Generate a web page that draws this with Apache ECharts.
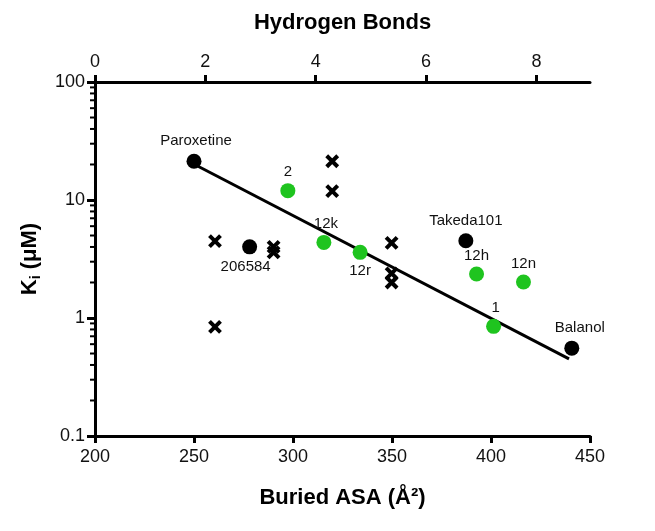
<!DOCTYPE html>
<html><head><meta charset="utf-8">
<script src="https://cdn.jsdelivr.net/npm/echarts@6/dist/echarts.min.js"></script>
<style>html,body{margin:0;padding:0;background:#fff}#c{width:655px;height:531px}</style>
</head><body><div id="c"></div>
<script>
// Named compounds (black = reference inhibitors, green = new compounds)
const blackNames = ['Paroxetine', '206584', 'Takeda101', 'Balanol'];
const blackX = [250.0, 278.1, 387.3, 440.8];
const blackY = [21.3, 4.01, 4.51, 0.555];
const greenNames = ['2', '12k', '12r', '12h', '12n', '1'];
const greenX = [297.4, 315.6, 333.9, 392.7, 416.4, 401.3];
const greenY = [12.0, 4.37, 3.6, 2.36, 2.02, 0.85];
// Unlabelled crosses
const crossX = [319.8, 319.8, 260.6, 290.2, 290.2, 260.6, 349.8, 349.8, 349.8];
const crossY = [21.3, 11.9, 4.48, 4.0, 3.6, 0.84, 4.33, 2.39, 2.0];
// Regression line endpoints
const fitX = [251.3, 439.4];
const fitY = [19.6, 0.451];
// Axis ticks
const bottomTicks = [200, 250, 300, 350, 400, 450];
const topTicks = [0, 2, 4, 6, 8];
const leftTicks = [0.1, 1, 10, 100];
const minorLeft = [0.2,0.3,0.4,0.5,0.6,0.7,0.8,0.9,2,3,4,5,6,7,8,9,20,30,40,50,60,70,80,90];

const labelPos = {
  'Paroxetine': {position: 'top', distance: 5, offset: [2, 0]},
  '206584': {position: 'bottom', distance: 5, offset: [-4, 0]},
  'Takeda101': {position: 'top', distance: 5},
  'Balanol': {position: 'top', distance: 5, offset: [8, 0]},
  '2': {position: 'top', distance: 4},
  '12k': {position: 'top', distance: 4, offset: [2, 0]},
  '12r': {position: 'bottom', distance: 4},
  '12h': {position: 'top', distance: 3},
  '12n': {position: 'top', distance: 3},
  '1': {position: 'top', distance: 3, offset: [2, 0]}
};
function mk(names, xs, ys) {
  return names.map((n, i) => ({
    name: n, value: [xs[i], ys[i]],
    label: Object.assign({show: true, formatter: n, color: '#111', fontSize: 15, fontFamily: 'Liberation Sans'}, labelPos[n])
  }));
}
const FONT = 'Liberation Sans';
const chart = echarts.init(document.getElementById('c'), null, {renderer: 'canvas'});
chart.setOption({
  animation: false,
  backgroundColor: '#fff',
  grid: {left: 95, right: 65, top: 82, bottom: 95, containLabel: false},
  xAxis: [{
    type: 'value', position: 'bottom', min: 200, max: 450, interval: 50,
    name: 'Buried ASA (Å²)', nameLocation: 'middle', nameGap: 51,
    nameTextStyle: {fontSize: 22, fontWeight: 'bold', color: '#000', fontFamily: FONT},
    axisLine: {show: true, onZero: false, lineStyle: {color: '#000', width: 3}},
    axisTick: {show: true, length: 7, lineStyle: {color: '#000', width: 3}},
    axisLabel: {fontSize: 18, color: '#111', fontFamily: FONT, margin: 12},
    splitLine: {show: false}
  }, {
    type: 'value', position: 'top', min: 0, max: 8.97, interval: 2,
    name: 'Hydrogen Bonds', nameLocation: 'middle', nameGap: 48,
    nameTextStyle: {fontSize: 22, fontWeight: 'bold', color: '#000', fontFamily: FONT},
    axisLine: {show: true, onZero: false, lineStyle: {color: '#000', width: 3}},
    axisTick: {show: true, length: 7, customValues: topTicks, lineStyle: {color: '#000', width: 3}},
    axisLabel: {fontSize: 18, color: '#111', fontFamily: FONT, margin: 11, customValues: topTicks},
    splitLine: {show: false}
  }],
  yAxis: [{
    type: 'log', logBase: 10, min: 0.1, max: 100,
    name: '{a|K}{s|i}{a| (μM)}', nameLocation: 'middle', nameGap: 52, nameRotate: 90,
    nameTextStyle: {
      fontFamily: FONT,
      rich: {
        a: {fontSize: 22, fontWeight: 'bold', color: '#000', fontFamily: FONT},
        s: {fontSize: 14, fontWeight: 'bold', color: '#000', fontFamily: FONT, verticalAlign: 'bottom', padding: [12, 0, 0, 0]}
      }
    },
    axisLine: {show: true, onZero: false, lineStyle: {color: '#000', width: 3}},
    axisTick: {show: true, length: 8, lineStyle: {color: '#000', width: 3}},
    axisLabel: {fontSize: 18, color: '#111', fontFamily: FONT, margin: 10,
      formatter: v => String(parseFloat(v.toPrecision(3)))},
    splitLine: {show: false}
  }],
  series: [{
    type: 'custom', xAxisIndex: 0, yAxisIndex: 0, silent: true, clip: false, z: 1,
    data: minorLeft.map(v => [200, v]),
    renderItem: (params, api) => {
      const p = api.coord([api.value(0), api.value(1)]);
      return {type: 'line', shape: {x1: p[0] - 5, y1: p[1], x2: p[0], y2: p[1]}, style: {stroke: '#000', lineWidth: 2}};
    }
  }, {
    type: 'line', xAxisIndex: 0, yAxisIndex: 0, symbol: 'none', z: 2,
    data: fitX.map((x, i) => [x, fitY[i]]),
    lineStyle: {color: '#000', width: 3}
  }, {
    type: 'scatter', xAxisIndex: 0, yAxisIndex: 0, z: 3,
    symbol: 'path://M0,0 L10,10 M10,0 L0,10', symbolSize: 11,
    itemStyle: {color: 'none', borderColor: '#000', borderWidth: 4, opacity: 1},
    data: crossX.map((x, i) => [x, crossY[i]])
  }, {
    type: 'scatter', xAxisIndex: 0, yAxisIndex: 0, z: 4, symbolSize: 15,
    itemStyle: {color: '#000', opacity: 1},
    data: mk(blackNames, blackX, blackY)
  }, {
    type: 'scatter', xAxisIndex: 0, yAxisIndex: 0, z: 4, symbolSize: 15,
    itemStyle: {color: '#1fc41f', opacity: 1},
    data: mk(greenNames, greenX, greenY)
  }]
});
</script></body></html>
